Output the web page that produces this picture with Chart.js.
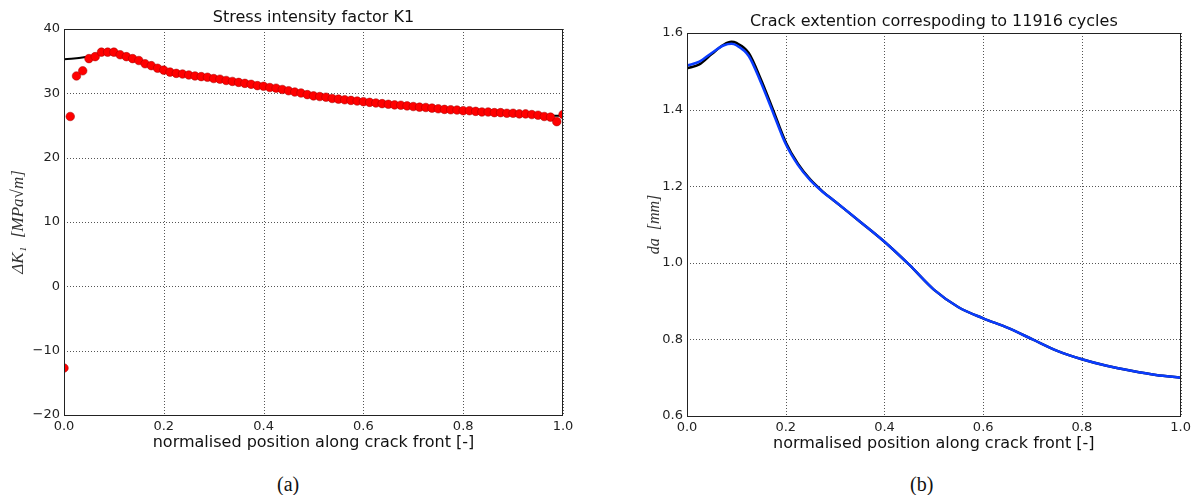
<!DOCTYPE html>
<html>
<head>
<meta charset="utf-8">
<script src="https://cdn.jsdelivr.net/npm/chart.js@4.4.0/dist/chart.umd.min.js"></script>
<style>
body { margin: 0; background: #fff; width: 1195px; height: 495px; overflow: hidden; position: relative; }
.box { position: absolute; top: 0; height: 460px; }
#boxA { left: 0; width: 600px; }
#boxB { left: 600px; width: 595px; }
.cap { position: absolute; top: 473px; font-family: 'Liberation Serif', serif; font-size: 20px; color: #111; }
</style>
</head>
<body>
<div class="box" id="boxA"><canvas id="chartA"></canvas></div>
<div class="box" id="boxB"><canvas id="chartB"></canvas></div>
<div class="cap" style="left:277px">(a)</div>
<div class="cap" style="left:910px">(b)</div>
<script>
// (a) stress intensity factor, nodes along the crack front
const kPos = [0, 0.0125, 0.025, 0.0375, 0.05, 0.0625, 0.075, 0.0875, 0.1, 0.1125,
    0.125, 0.1375, 0.15, 0.1625, 0.175, 0.1875, 0.2, 0.2125, 0.225, 0.2375,
    0.25, 0.2625, 0.275, 0.2875, 0.3, 0.3125, 0.325, 0.3375, 0.35, 0.3625,
    0.375, 0.3875, 0.4, 0.4125, 0.425, 0.4375, 0.45, 0.4625, 0.475, 0.4875,
    0.5, 0.5125, 0.525, 0.5375, 0.55, 0.5625, 0.575, 0.5875, 0.6, 0.6125,
    0.625, 0.6375, 0.65, 0.6625, 0.675, 0.6875, 0.7, 0.7125, 0.725, 0.7375,
    0.75, 0.7625, 0.775, 0.7875, 0.8, 0.8125, 0.825, 0.8375, 0.85, 0.8625,
    0.875, 0.8875, 0.9, 0.9125, 0.925, 0.9375, 0.95, 0.9625, 0.975, 0.9875, 1];
const kDots = [-12.7, 26.4, 32.7, 33.5, 35.4, 35.7, 36.4, 36.4, 36.4, 36.0,
    35.7, 35.4, 35.1, 34.6, 34.3, 33.9, 33.6, 33.3, 33.1, 33.0,
    32.85, 32.7, 32.6, 32.5, 32.3, 32.2, 32.0, 31.85, 31.7, 31.55,
    31.4, 31.2, 31.1, 30.9, 30.8, 30.6, 30.4, 30.2, 30.05, 29.8,
    29.6, 29.5, 29.4, 29.2, 29.1, 29.0, 28.9, 28.8, 28.7, 28.6,
    28.5, 28.4, 28.3, 28.2, 28.15, 28.05, 27.95, 27.85, 27.8, 27.7,
    27.6, 27.5, 27.45, 27.4, 27.3, 27.3, 27.2, 27.1, 27.1, 27.0,
    27.0, 26.9, 26.9, 26.8, 26.8, 26.7, 26.6, 26.4, 26.3, 25.6, 26.7];
const kFitPos = [0, 0.02, 0.04, 0.06, 0.08, 0.1, 0.12, 0.14, 0.16, 0.2, 0.25, 0.3, 0.4, 0.5, 0.6, 0.7, 0.8, 0.9, 0.95, 0.98, 1];
const kFit = [35.3, 35.4, 35.6, 35.9, 36.3, 36.35, 35.8, 35.2, 34.6, 33.6, 32.9, 32.4, 31.1, 29.7, 28.6, 27.9, 27.3, 26.8, 26.6, 26.5, 26.5];

// (b) crack extension
const daPos = [0, 0.025, 0.05, 0.075, 0.09, 0.1, 0.125, 0.15, 0.175, 0.2, 0.225, 0.25, 0.275, 0.3,
    0.35, 0.4, 0.45, 0.5, 0.55, 0.6, 0.65, 0.7, 0.75, 0.8, 0.85, 0.9, 0.95, 1];
const daBlue = [1.515, 1.525, 1.548, 1.568, 1.572, 1.568, 1.54, 1.47, 1.39, 1.31, 1.255, 1.215, 1.185, 1.160,
    1.108, 1.055, 0.995, 0.93, 0.884, 0.855, 0.830, 0.800, 0.770, 0.748, 0.731, 0.718, 0.707, 0.700];
const daBlack = [1.508, 1.518, 1.545, 1.570, 1.577, 1.574, 1.548, 1.478, 1.397, 1.315, 1.258, 1.217, 1.186, 1.160,
    1.108, 1.055, 0.995, 0.93, 0.884, 0.855, 0.830, 0.800, 0.770, 0.748, 0.731, 0.718, 0.707, 0.700];

const xTicks = [0, 0.2, 0.4, 0.6, 0.8, 1];

function pts(xs, ys) {
    return xs.map((x, i) => ({ x: x, y: ys[i] }));
}

// matplotlib-like dotted grid and a closed frame
const dottedGrid = {
    id: 'dottedGrid',
    beforeDatasetsDraw(chart) {
        const { ctx, chartArea: a, scales } = chart;
        ctx.save();
        ctx.strokeStyle = '#555';
        ctx.lineWidth = 1;
        ctx.setLineDash([1, 2]);
        scales.x.ticks.forEach(t => {
            const px = Math.round(scales.x.getPixelForValue(t.value)) + 0.5;
            ctx.beginPath(); ctx.moveTo(px, a.top); ctx.lineTo(px, a.bottom); ctx.stroke();
        });
        scales.y.ticks.forEach(t => {
            const py = Math.round(scales.y.getPixelForValue(t.value)) + 0.5;
            ctx.beginPath(); ctx.moveTo(a.left, py); ctx.lineTo(a.right, py); ctx.stroke();
        });
        ctx.restore();
    },
    afterDatasetsDraw(chart) {
        const { ctx, chartArea: a } = chart;
        ctx.save();
        ctx.strokeStyle = '#222';
        ctx.lineWidth = 1;
        ctx.strokeRect(Math.round(a.left) + 0.5, Math.round(a.top) + 0.5,
            Math.round(a.right - a.left) - 1, Math.round(a.bottom - a.top));
        ctx.restore();
    }
};

const tickFont = { family: 'DejaVu Sans', size: 13 };
const minus = v => String(v).replace('-', '\u2212');
const noGrid = { display: false, drawTicks: false };

function xScale() {
    return {
        type: 'linear', min: 0, max: 1,
        afterBuildTicks: s => { s.ticks = xTicks.map(v => ({ value: v })); },
        afterFit: s => { s.height = 40; },
        ticks: { font: tickFont, color: '#222', padding: 4, maxRotation: 0, autoSkip: false,
            callback: v => v.toFixed(1) },
        grid: noGrid,
        border: { display: false },
        title: { display: true, text: 'normalised position along crack front [-]',
            font: { family: 'DejaVu Sans', size: 16 }, color: '#111', padding: { top: 0, bottom: 2.5 } }
    };
}

new Chart(document.getElementById('chartA'), {
    type: 'scatter',
    data: {
        datasets: [{
            data: pts(kPos, kDots),
            backgroundColor: '#ff0000',
            borderColor: '#a00000',
            borderWidth: 0.5,
            pointRadius: 4.3,
            clip: 0
        }, {
            data: pts(kFitPos, kFit),
            showLine: true,
            borderColor: '#000',
            borderWidth: 2,
            pointRadius: 0,
            cubicInterpolationMode: 'monotone',
            clip: 0
        }]
    },
    options: {
        responsive: true,
        maintainAspectRatio: false,
        animation: false,
        layout: { padding: { left: 0, right: 37, top: 0, bottom: 5 } },
        plugins: {
            legend: { display: false },
            tooltip: { enabled: false },
            title: { display: true, fullSize: false, text: 'Stress intensity factor K1',
                font: { family: 'DejaVu Sans', size: 16, weight: 'normal' }, color: '#111',
                padding: { top: 8, bottom: 1.8 } }
        },
        scales: {
            x: xScale(),
            y: {
                min: -20, max: 40,
                afterFit: s => { s.width = 64; },
                ticks: { stepSize: 10, font: tickFont, color: '#222', padding: 4, callback: minus },
                grid: noGrid,
                border: { display: false },
                title: { display: true, text: 'ΔK₁  [MPa√m]',
                    font: { family: 'Liberation Serif', size: 17, style: 'italic' }, color: '#333',
                    padding: { top: 8, bottom: 0 } }
            }
        }
    },
    plugins: [dottedGrid]
});

new Chart(document.getElementById('chartB'), {
    type: 'scatter',
    data: {
        datasets: [{
            data: pts(daPos, daBlue),
            showLine: true,
            borderColor: '#0a3cff',
            borderWidth: 2.5,
            pointRadius: 0,
            cubicInterpolationMode: 'monotone',
            clip: 0
        }, {
            data: pts(daPos, daBlack),
            showLine: true,
            borderColor: '#000',
            borderWidth: 2.5,
            pointRadius: 0,
            cubicInterpolationMode: 'monotone',
            clip: 0
        }]
    },
    options: {
        responsive: true,
        maintainAspectRatio: false,
        animation: false,
        layout: { padding: { left: 0, right: 13, top: 0, bottom: 4 } },
        plugins: {
            legend: { display: false },
            tooltip: { enabled: false },
            title: { display: true, fullSize: false, text: 'Crack extention correspoding to 11916 cycles',
                font: { family: 'DejaVu Sans', size: 16, weight: 'normal' }, color: '#111',
                padding: { top: 12, bottom: 1.8 } }
        },
        scales: {
            x: xScale(),
            y: {
                min: 0.6, max: 1.6,
                afterFit: s => { s.width = 87; },
                ticks: { stepSize: 0.2, font: tickFont, color: '#222', padding: 4,
                    callback: v => v.toFixed(1) },
                grid: noGrid,
                border: { display: false },
                title: { display: true, text: 'da  [mm]',
                    font: { family: 'Liberation Serif', size: 16, style: 'italic' }, color: '#333',
                    padding: { top: 45, bottom: 0 } }
            }
        }
    },
    plugins: [dottedGrid]
});
</script>
</body>
</html>
